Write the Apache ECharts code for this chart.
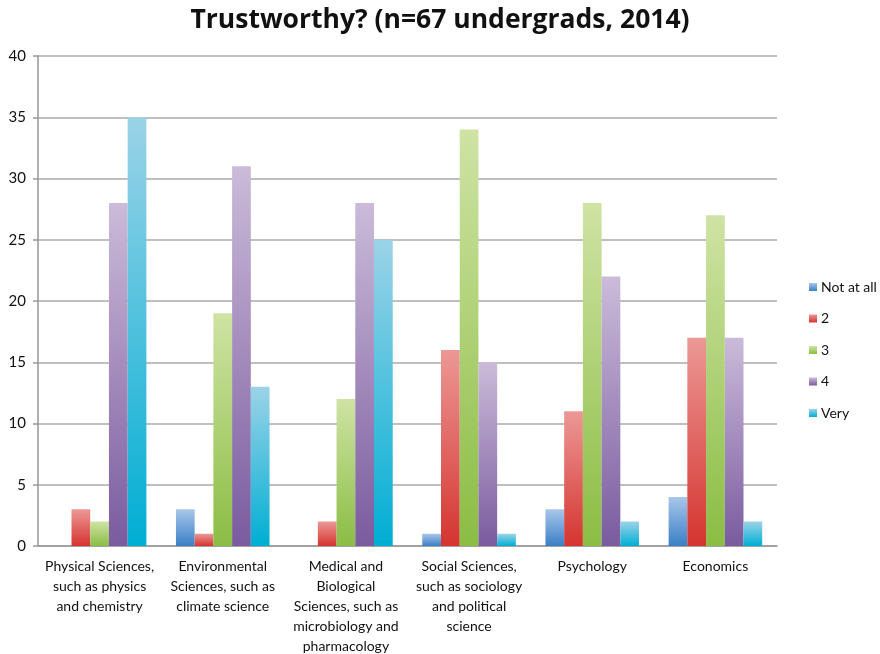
<!DOCTYPE html>
<html>
<head>
<meta charset="utf-8">
<script src="https://cdn.jsdelivr.net/npm/echarts@6/dist/echarts.min.js"></script>
<style>
  html, body { margin: 0; padding: 0; background: #ffffff; }
  #chart { width: 880px; height: 654px; }
</style>
</head>
<body>
<div id="chart"></div>
<script>
// Survey of trust in fields of science (ratings 1-5)
const categories = [
  "Physical Sciences,\nsuch as physics\nand chemistry",
  "Environmental\nSciences, such as\nclimate science",
  "Medical and\nBiological\nSciences, such as\nmicrobiology and\npharmacology",
  "Social Sciences,\nsuch as sociology\nand political\nscience",
  "Psychology",
  "Economics"
];
const seriesNames = ["Not at all", "2", "3", "4", "Very"];
const notAtAll = [0, 3, 0, 1, 3, 4];
const two      = [3, 1, 2, 16, 11, 17];
const three    = [2, 19, 12, 34, 28, 27];
const four     = [28, 31, 28, 15, 22, 17];
const very     = [35, 13, 25, 1, 2, 2];
const yTicks = { min: 0, max: 40, interval: 5 };

const seriesData = [notAtAll, two, three, four, very];
// top (light) and bottom (saturated) colours for each series
const shades = [
  ["#a9c6ea", "#3a7fc6"],
  ["#ec9896", "#d5342f"],
  ["#cfe3a4", "#8bbd44"],
  ["#cbbbd9", "#7a5b9f"],
  ["#9bd3e8", "#00aed3"]
];

const font = "Lato, 'Open Sans', sans-serif";

const chart = echarts.init(document.getElementById("chart"));
chart.setOption({
  backgroundColor: "#ffffff",
  animation: false,
  title: {
    text: "Trustworthy? (n=67 undergrads, 2014)",
    left: "center",
    top: 2,
    textStyle: { fontFamily: "'Open Sans', sans-serif", fontSize: 26.5, fontWeight: "bold", color: "#111" }
  },
  legend: {
    orient: "vertical",
    left: 804,
    top: 275,
    itemWidth: 8,
    itemHeight: 8,
    itemGap: 17.5,
    icon: "rect",
    data: seriesNames,
    textStyle: { fontFamily: font, fontSize: 14, color: "#111", padding: [0, 0, 0, -1] }
  },
  grid: { left: 38, right: 103, top: 56, bottom: 108, outerBoundsMode: "none", containLabel: false },
  xAxis: {
    type: "category",
    data: categories,
    axisLine: { lineStyle: { color: "#999", width: 1.5 } },
    axisTick: { length: 6, lineStyle: { color: "#999", width: 1.5 } },
    axisLabel: {
      interval: 0,
      margin: 10,
      fontFamily: font,
      fontSize: 14,
      lineHeight: 20,
      color: "#111"
    }
  },
  yAxis: {
    type: "value",
    min: yTicks.min,
    max: yTicks.max,
    interval: yTicks.interval,
    axisLine: { show: true, lineStyle: { color: "#999", width: 1.5 } },
    axisTick: { show: true, length: 5, lineStyle: { color: "#999", width: 1.5 } },
    splitLine: { lineStyle: { color: "#aaa", width: 1.5 } },
    axisLabel: { fontFamily: font, fontSize: 15, color: "#111", margin: 12 }
  },
  series: seriesNames.map((name, i) => ({
    name: name,
    type: "bar",
    data: seriesData[i],
    barGap: "0%",
    barCategoryGap: "24%",
    itemStyle: {
      color: new echarts.graphic.LinearGradient(0, 0, 0, 1, [
        { offset: 0, color: shades[i][0] },
        { offset: 1, color: shades[i][1] }
      ])
    }
  }))
});
</script>
</body>
</html>
